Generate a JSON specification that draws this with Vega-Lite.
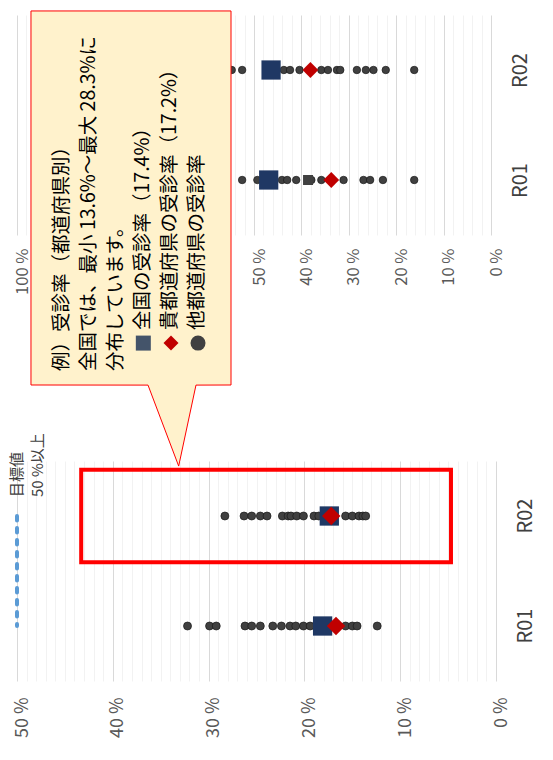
{
  "$schema": "https://vega.github.io/schema/vega-lite/v6.json",
  "padding": {"left": 9, "top": 8, "right": 12, "bottom": 0},
  "background": "#FFFFFF",
  "bounds": "flush",
  "spacing": 226,
  "config": {
    "view": {"stroke": null},
    "font": "Noto Sans CJK JP",
    "axis": {
      "domain": false,
      "ticks": false,
      "labelFlush": false,
      "labelOverlap": false,
      "labelBound": false,
      "labelFont": "Noto Sans CJK JP",
      "labelColor": "#595959"
    }
  },
  "datasets": {
    "top": [
      {"year": "R02", "kind": "他都道府県", "rate": 54.7},
      {"year": "R02", "kind": "他都道府県", "rate": 52.5},
      {"year": "R02", "kind": "他都道府県", "rate": 43.7},
      {"year": "R02", "kind": "他都道府県", "rate": 42.4},
      {"year": "R02", "kind": "他都道府県", "rate": 40.4},
      {"year": "R02", "kind": "他都道府県", "rate": 35.8},
      {"year": "R02", "kind": "他都道府県", "rate": 34.4},
      {"year": "R02", "kind": "他都道府県", "rate": 32.5},
      {"year": "R02", "kind": "他都道府県", "rate": 31.8},
      {"year": "R02", "kind": "他都道府県", "rate": 28.3},
      {"year": "R02", "kind": "他都道府県", "rate": 26.4},
      {"year": "R02", "kind": "他都道府県", "rate": 24.8},
      {"year": "R02", "kind": "他都道府県", "rate": 22.2},
      {"year": "R02", "kind": "他都道府県", "rate": 16.2},
      {"year": "R02", "kind": "全国", "rate": 46.4},
      {"year": "R02", "kind": "貴都道府県", "rate": 38.1},
      {"year": "R01", "kind": "他都道府県", "rate": 52.5},
      {"year": "R01", "kind": "他都道府県", "rate": 49.3},
      {"year": "R01", "kind": "他都道府県", "rate": 44.1},
      {"year": "R01", "kind": "他都道府県", "rate": 43.0},
      {"year": "R01", "kind": "他都道府県", "rate": 41.1},
      {"year": "R01", "kind": "他都道府県", "rate": 37.9},
      {"year": "R01", "kind": "他都道府県", "rate": 35.8},
      {"year": "R01", "kind": "他都道府県", "rate": 31.1},
      {"year": "R01", "kind": "他都道府県", "rate": 26.9},
      {"year": "R01", "kind": "他都道府県", "rate": 25.5},
      {"year": "R01", "kind": "他都道府県", "rate": 22.8},
      {"year": "R01", "kind": "他都道府県", "rate": 16.2},
      {"year": "R01", "kind": "全国", "rate": 46.9},
      {"year": "R01", "kind": "貴都道府県", "rate": 33.7}
    ],
    "topExtra": [{"year": "R01", "rate": 38.6}],
    "bottom": [
      {"year": "R02", "kind": "他都道府県", "rate": 28.3},
      {"year": "R02", "kind": "他都道府県", "rate": 26.3},
      {"year": "R02", "kind": "他都道府県", "rate": 25.5},
      {"year": "R02", "kind": "他都道府県", "rate": 24.6},
      {"year": "R02", "kind": "他都道府県", "rate": 23.9},
      {"year": "R02", "kind": "他都道府県", "rate": 22.3},
      {"year": "R02", "kind": "他都道府県", "rate": 21.7},
      {"year": "R02", "kind": "他都道府県", "rate": 21.4},
      {"year": "R02", "kind": "他都道府県", "rate": 20.8},
      {"year": "R02", "kind": "他都道府県", "rate": 20.1},
      {"year": "R02", "kind": "他都道府県", "rate": 19.0},
      {"year": "R02", "kind": "他都道府県", "rate": 18.5},
      {"year": "R02", "kind": "他都道府県", "rate": 15.7},
      {"year": "R02", "kind": "他都道府県", "rate": 15.0},
      {"year": "R02", "kind": "他都道府県", "rate": 14.3},
      {"year": "R02", "kind": "他都道府県", "rate": 13.9},
      {"year": "R02", "kind": "他都道府県", "rate": 13.6},
      {"year": "R02", "kind": "全国", "rate": 17.4},
      {"year": "R02", "kind": "貴都道府県", "rate": 17.2},
      {"year": "R01", "kind": "他都道府県", "rate": 32.2},
      {"year": "R01", "kind": "他都道府県", "rate": 29.9},
      {"year": "R01", "kind": "他都道府県", "rate": 29.2},
      {"year": "R01", "kind": "他都道府県", "rate": 26.2},
      {"year": "R01", "kind": "他都道府県", "rate": 25.5},
      {"year": "R01", "kind": "他都道府県", "rate": 24.6},
      {"year": "R01", "kind": "他都道府県", "rate": 23.3},
      {"year": "R01", "kind": "他都道府県", "rate": 22.4},
      {"year": "R01", "kind": "他都道府県", "rate": 21.5},
      {"year": "R01", "kind": "他都道府県", "rate": 20.9},
      {"year": "R01", "kind": "他都道府県", "rate": 20.1},
      {"year": "R01", "kind": "他都道府県", "rate": 19.4},
      {"year": "R01", "kind": "他都道府県", "rate": 15.7},
      {"year": "R01", "kind": "他都道府県", "rate": 15.0},
      {"year": "R01", "kind": "他都道府県", "rate": 14.5},
      {"year": "R01", "kind": "他都道府県", "rate": 12.4},
      {"year": "R01", "kind": "全国", "rate": 18.1},
      {"year": "R01", "kind": "貴都道府県", "rate": 16.7}
    ],
    "target": [{"year": "R02", "rate": 50}, {"year": "R01", "rate": 50}],
    "targetLabel": [{"year": "R02", "rate": 50, "lines": ["目標値", "50 %以上"]}],
    "highlight": [{"year": "R02", "from": 43.3, "to": 4.7}],
    "callout": [
      {"pos": 0.482, "left": 97.05, "right": 54.85},
      {"pos": 3.821, "left": 97.05, "right": 54.85},
      {"pos": 3.822, "left": 72.36, "right": 62.24},
      {"pos": 4.545, "left": 65.89, "right": 65.89}
    ],
    "note": [
      {"x": 92.36, "pos": 3.696, "lines": [
        "例）受診率（都道府県別）",
        "全国では、最小 13.6%～最大 28.3%に",
        "分布しています。"
      ]},
      {"x": 75.27, "pos": 3.33, "lines": [
        "全国の受診率（17.4%）",
        "貴都道府県の受診率（17.2%）",
        "他都道府県の受診率"
      ]}
    ],
    "noteMarkers": [
      {"kind": "全国", "x": 73.35, "pos": 3.447},
      {"kind": "貴都道府県", "x": 67.51, "pos": 3.447},
      {"kind": "他都道府県", "x": 61.81, "pos": 3.447}
    ]
  },
  "vconcat": [
    {
      "width": 474,
      "height": 220,
      "layer": [
        {
          "layer": [
            {
              "data": {"name": "top"},
              "transform": [{"filter": "datum.kind === '他都道府県'"}],
              "mark": {"type": "point", "shape": "circle", "filled": true, "size": 56, "fill": "#404040", "stroke": "#1A1A1A", "strokeWidth": 0.7, "opacity": 1},
              "encoding": {
                "x": {
                  "field": "rate", "type": "quantitative", "title": null,
                  "scale": {"domain": [0, 100], "reverse": true, "nice": false},
                  "axis": {
                    "values": [0,2,4,6,8,10,12,14,16,18,20,22,24,26,28,30,32,34,36,38,40,42,44,46,48,50,52,54,56,58,60,62,64,66,68,70,72,74,76,78,80,82,84,86,88,90,92,94,96,98,100],
                    "tickCount": 200,
                    "grid": true,
                    "gridColor": {"condition": {"test": "datum.value % 10 === 0", "value": "#D9D9D9"}, "value": "#F2F2F2"},
                    "labelAngle": 270,
                    "labelPadding": 13,
                    "labelFontSize": 16.5,
                    "labelOffset": 5,
                    "labelExpr": "datum.value % 10 === 0 ? datum.value + ' %' : ''"
                  }
                },
                "y": {
                  "field": "year", "type": "nominal", "title": null,
                  "scale": {"domain": ["R02", "R01"], "paddingInner": 0.5, "paddingOuter": 0.232},
                  "axis": {"orient": "right", "grid": false, "labelAngle": 270, "labelAlign": "center", "labelBaseline": "top", "labelPadding": 19, "labelFontSize": 20, "labelColor": "#404040"}
                }
              }
            },
            {
              "data": {"name": "topExtra"},
              "mark": {"type": "point", "shape": "square", "filled": true, "size": 100, "fill": "#404040", "opacity": 1},
              "encoding": {
                "x": {"field": "rate", "type": "quantitative", "title": null},
                "y": {"field": "year", "type": "nominal", "title": null}
              }
            },
            {
              "data": {"name": "top"},
              "transform": [{"filter": "datum.kind === '全国'"}],
              "mark": {"type": "point", "shape": "square", "filled": true, "size": 370, "fill": "#1F3864", "opacity": 1},
              "encoding": {
                "x": {"field": "rate", "type": "quantitative", "title": null},
                "y": {"field": "year", "type": "nominal", "title": null}
              }
            },
            {
              "data": {"name": "top"},
              "transform": [{"filter": "datum.kind === '貴都道府県'"}],
              "mark": {"type": "point", "shape": "diamond", "filled": true, "size": 250, "fill": "#C00000", "opacity": 1},
              "encoding": {
                "x": {"field": "rate", "type": "quantitative", "title": null},
                "y": {"field": "year", "type": "nominal", "title": null}
              }
            }
          ]
        },
        {
          "layer": [
            {
              "data": {"name": "callout"},
              "mark": {"type": "area", "orient": "horizontal", "fill": "#FFF2CC", "stroke": "#FF0000", "strokeWidth": 1, "opacity": 1, "fillOpacity": 1},
              "encoding": {
                "y": {"field": "pos", "type": "quantitative", "title": null, "scale": {"domain": [0.518, 2.482], "reverse": true, "nice": false, "zero": false}, "axis": null},
                "x": {"field": "left", "type": "quantitative", "title": null},
                "x2": {"field": "right"}
              }
            },
            {
              "data": {"name": "note"},
              "mark": {"type": "text", "angle": 270, "align": "left", "baseline": "top", "fontSize": 19.5, "lineHeight": 27, "color": "#000000", "font": "Noto Sans CJK JP"},
              "encoding": {
                "x": {"field": "x", "type": "quantitative", "title": null},
                "y": {"field": "pos", "type": "quantitative", "title": null},
                "text": {"field": "lines"}
              }
            },
            {
              "data": {"name": "noteMarkers"},
              "mark": {"type": "point", "filled": true, "size": 225, "opacity": 1},
              "encoding": {
                "x": {"field": "x", "type": "quantitative", "title": null},
                "y": {"field": "pos", "type": "quantitative", "title": null},
                "color": {"field": "kind", "type": "nominal", "legend": null, "scale": {"domain": ["全国", "貴都道府県", "他都道府県"], "range": ["#44546A", "#C00000", "#404040"]}},
                "shape": {"field": "kind", "type": "nominal", "legend": null, "scale": {"domain": ["全国", "貴都道府県", "他都道府県"], "range": ["square", "diamond", "circle"]}}
              }
            }
          ]
        }
      ],
      "resolve": {"scale": {"y": "independent"}}
    },
    {
      "width": 479,
      "height": 220,
      "layer": [
        {
          "data": {"name": "bottom"},
          "transform": [{"filter": "datum.kind === '他都道府県'"}],
          "mark": {"type": "point", "shape": "circle", "filled": true, "size": 64, "fill": "#404040", "stroke": "#1A1A1A", "strokeWidth": 0.7, "opacity": 1},
          "encoding": {
            "x": {
              "field": "rate", "type": "quantitative", "title": null,
              "scale": {"domain": [0, 50], "reverse": true, "nice": false},
              "axis": {
                "values": [0,1,2,3,4,5,6,7,8,9,10,11,12,13,14,15,16,17,18,19,20,21,22,23,24,25,26,27,28,29,30,31,32,33,34,35,36,37,38,39,40,41,42,43,44,45,46,47,48,49,50],
                "tickCount": 200,
                "grid": true,
                "gridColor": {"condition": {"test": "datum.value % 10 === 0", "value": "#D9D9D9"}, "value": "#F2F2F2"},
                "labelAngle": 270,
                "labelPadding": 16,
                "labelFontSize": 18,
                "labelOffset": 5,
                "labelExpr": "datum.value % 10 === 0 ? datum.value + ' %' : ''"
              }
            },
            "y": {
              "field": "year", "type": "nominal", "title": null,
              "scale": {"domain": ["R02", "R01"], "paddingInner": 0.158, "paddingOuter": 0.079},
              "axis": {"orient": "right", "grid": false, "labelAngle": 270, "labelAlign": "center", "labelBaseline": "top", "labelPadding": 19, "labelFontSize": 20, "labelColor": "#404040"}
            }
          }
        },
        {
          "data": {"name": "bottom"},
          "transform": [{"filter": "datum.kind === '全国'"}],
          "mark": {"type": "point", "shape": "square", "filled": true, "size": 372, "fill": "#1F3864", "opacity": 1},
          "encoding": {
            "x": {"field": "rate", "type": "quantitative", "title": null},
            "y": {"field": "year", "type": "nominal", "title": null}
          }
        },
        {
          "data": {"name": "bottom"},
          "transform": [{"filter": "datum.kind === '貴都道府県'"}],
          "mark": {"type": "point", "shape": "diamond", "filled": true, "size": 340, "fill": "#C00000", "opacity": 1},
          "encoding": {
            "x": {"field": "rate", "type": "quantitative", "title": null},
            "y": {"field": "year", "type": "nominal", "title": null}
          }
        },
        {
          "data": {"name": "highlight"},
          "mark": {"type": "rect", "fill": null, "fillOpacity": 0, "stroke": "#FF0000", "strokeWidth": 4},
          "encoding": {
            "x": {"field": "from", "type": "quantitative", "title": null},
            "x2": {"field": "to"},
            "y": {"field": "year", "type": "nominal", "title": null}
          }
        },
        {
          "data": {"name": "target"},
          "mark": {"type": "line", "stroke": "#5B9BD5", "strokeWidth": 4, "strokeDash": [4.5, 7.5], "strokeCap": "round"},
          "encoding": {
            "x": {"field": "rate", "type": "quantitative", "title": null},
            "y": {"field": "year", "type": "nominal", "title": null}
          }
        },
        {
          "data": {"name": "targetLabel"},
          "mark": {"type": "text", "angle": 270, "align": "left", "baseline": "middle", "dx": 19, "dy": 0, "fontSize": 15, "lineHeight": 20.5, "color": "#404040", "font": "Noto Sans CJK JP"},
          "encoding": {
            "x": {"field": "rate", "type": "quantitative", "title": null},
            "y": {"field": "year", "type": "nominal", "title": null},
            "text": {"field": "lines"}
          }
        }
      ]
    }
  ]
}
